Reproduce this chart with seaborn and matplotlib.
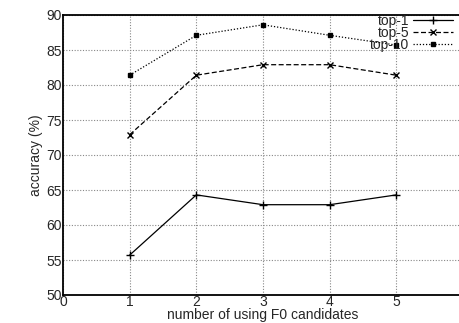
import numpy as np
import pandas as pd
import matplotlib
matplotlib.use("Agg")
import matplotlib.pyplot as plt
import seaborn as sns

n_candidates = [1, 2, 3, 4, 5]
top1 = [55.7, 64.3, 62.9, 62.9, 64.3]
top5 = [72.9, 81.4, 82.9, 82.9, 81.4]
top10 = [81.4, 87.1, 88.6, 87.1, 85.7]
series_names = ["top-1", "top-5", "top-10"]
x_ticks = [0, 1, 2, 3, 4, 5]
y_ticks = [50, 55, 60, 65, 70, 75, 80, 85, 90]

df = pd.DataFrame({
    "n": n_candidates * 3,
    "acc": top1 + top5 + top10,
    "series": np.repeat(series_names, len(n_candidates)),
})

sns.set_style("white")
plt.rcParams["font.family"] = ["Liberation Sans", "DejaVu Sans"]

fig = plt.figure(figsize=(4.59, 3.23), dpi=100)
ax = fig.add_axes([63 / 459, 28 / 323, 400 / 459, 280 / 323])

styles = {"top-1": ("-", "+", 6), "top-5": ((0, (4, 2)), "x", 4), "top-10": ((0, (1, 1.5)), "s", 3)}
for name in series_names:
    ls, mk, ms = styles[name]
    sub = df[df["series"] == name]
    sns.lineplot(data=sub, x="n", y="acc", ax=ax, color="black", linewidth=0.9,
                 linestyle=ls, marker=mk, markersize=ms, markeredgewidth=1.0,
                 markeredgecolor="black", label=name)

ax.set_xlim(0, 6)
ax.set_ylim(50, 90)
ax.set_xticks(x_ticks)
ax.set_yticks(y_ticks)
ax.grid(True, color="#888888", linestyle=(0, (1, 1.5)), linewidth=0.8)
ax.tick_params(axis="both", length=3, direction="in", labelsize=10, pad=1, color="black")
ax.tick_params(axis="x", pad=0)
for s in ax.spines.values():
    s.set_color("black")
    s.set_linewidth(1.3)

ax.set_xlabel("number of using F0 candidates", fontsize=10, labelpad=-0.5)
ax.set_ylabel("accuracy (%)", fontsize=10, labelpad=2)

leg = ax.legend(loc="upper right", bbox_to_anchor=(0.99, 1.025), frameon=False,
                markerfirst=False, fontsize=10, handlelength=2.9,
                labelspacing=-0.12, handletextpad=0.3, borderaxespad=0)
for t in leg.get_texts():
    t.set_ha("right")

fig.savefig("out.png", dpi=100)
